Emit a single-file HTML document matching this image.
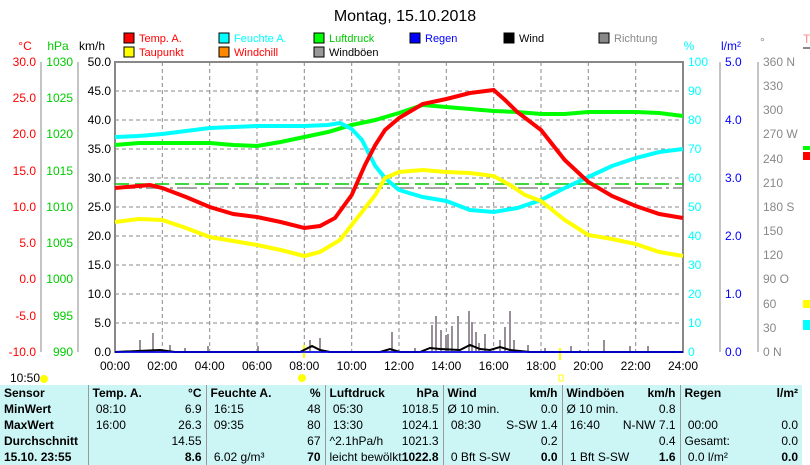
<!DOCTYPE html>
<html><head><meta charset="utf-8"><style>
body{margin:0;width:810px;height:465px;overflow:hidden;background:#fff;font-family:"Liberation Sans",sans-serif}
svg{position:absolute;left:0;top:0}
table{position:absolute;left:0;top:385px;border-collapse:collapse;background:#ccf5f5;font-size:12px;width:802px;table-layout:fixed}
td{padding:0 4px;height:16px;line-height:16px;white-space:nowrap;overflow:hidden}
.b{font-weight:bold}
.bl{border-left:1px solid #999}
</style></head><body>
<svg width="810" height="385" font-family="Liberation Sans, sans-serif" font-size="12">
<text x="405" y="21" font-size="16" text-anchor="middle">Montag, 15.10.2018</text>
<g font-size="11">
<rect x="124" y="33" width="10" height="10" fill="#f00" stroke="#000"/><text x="139" y="42" fill="#f00">Temp. A.</text>
<rect x="124" y="47" width="10" height="10" fill="#ff0" stroke="#000"/><text x="139" y="56" fill="#f00">Taupunkt</text>
<rect x="219" y="33" width="10" height="10" fill="#0ff" stroke="#000"/><text x="234" y="42" fill="#0ff">Feuchte A.</text>
<rect x="219" y="47" width="10" height="10" fill="#f80" stroke="#000"/><text x="234" y="56" fill="#f00">Windchill</text>
<rect x="314" y="33" width="10" height="10" fill="#0f0" stroke="#000"/><text x="329" y="42" fill="#0c0">Luftdruck</text>
<rect x="314" y="47" width="10" height="10" fill="#999" stroke="#000"/><text x="329" y="56">Windböen</text>
<rect x="410" y="33" width="10" height="10" fill="#00f" stroke="#000"/><text x="425" y="42" fill="#00f">Regen</text>
<rect x="504" y="33" width="10" height="10" fill="#000" stroke="#000"/><text x="519" y="42">Wind</text>
<rect x="599" y="33" width="10" height="10" fill="#888" stroke="#000"/><text x="614" y="42" fill="#888">Richtung</text>
</g>
<text x="25" y="50" fill="#f00" text-anchor="middle">°C</text>
<text x="58" y="50" fill="#0c0" text-anchor="middle">hPa</text>
<text x="92" y="50" text-anchor="middle">km/h</text>
<text x="689" y="50" fill="#0ff" text-anchor="middle">%</text>
<text x="731" y="50" fill="#00f" text-anchor="middle">l/m²</text>
<text x="760" y="46" fill="#888">°</text>
<g stroke="#888" stroke-dasharray="4,3" stroke-width="1">
<line x1="162.3" y1="62" x2="162.3" y2="352"/><line x1="209.7" y1="62" x2="209.7" y2="352"/><line x1="257" y1="62" x2="257" y2="352"/><line x1="304.3" y1="62" x2="304.3" y2="352"/><line x1="351.7" y1="62" x2="351.7" y2="352"/><line x1="399" y1="62" x2="399" y2="352"/><line x1="446.3" y1="62" x2="446.3" y2="352"/><line x1="493.7" y1="62" x2="493.7" y2="352"/><line x1="541" y1="62" x2="541" y2="352"/><line x1="588.3" y1="62" x2="588.3" y2="352"/><line x1="635.7" y1="62" x2="635.7" y2="352"/>
<line x1="115" y1="91" x2="683" y2="91"/><line x1="115" y1="120" x2="683" y2="120"/><line x1="115" y1="149" x2="683" y2="149"/><line x1="115" y1="178" x2="683" y2="178"/><line x1="115" y1="207" x2="683" y2="207"/><line x1="115" y1="236" x2="683" y2="236"/><line x1="115" y1="265" x2="683" y2="265"/><line x1="115" y1="294" x2="683" y2="294"/><line x1="115" y1="323" x2="683" y2="323"/>
</g>
<rect x="115" y="62" width="568" height="290" fill="none" stroke="#888" stroke-width="2"/>
<g stroke="#888">
<line x1="41" y1="62" x2="41" y2="352"/><line x1="78" y1="62" x2="78" y2="352"/>
<line x1="720" y1="62" x2="720" y2="352"/><line x1="758" y1="62" x2="758" y2="352"/>
</g>
<g font-size="12">
<g fill="#f00" text-anchor="end"><text x="36" y="66">30.0</text><text x="36" y="102">25.0</text><text x="36" y="138">20.0</text><text x="36" y="175">15.0</text><text x="36" y="211">10.0</text><text x="36" y="247">5.0</text><text x="36" y="283">0.0</text><text x="36" y="320">-5.0</text><text x="36" y="356">-10.0</text></g>
<g fill="#0c0" text-anchor="end"><text x="73" y="66">1030</text><text x="73" y="102">1025</text><text x="73" y="138">1020</text><text x="73" y="175">1015</text><text x="73" y="211">1010</text><text x="73" y="247">1005</text><text x="73" y="283">1000</text><text x="73" y="320">995</text><text x="73" y="356">990</text></g>
<g text-anchor="end"><text x="111" y="66">50.0</text><text x="111" y="95">45.0</text><text x="111" y="124">40.0</text><text x="111" y="153">35.0</text><text x="111" y="182">30.0</text><text x="111" y="211">25.0</text><text x="111" y="240">20.0</text><text x="111" y="269">15.0</text><text x="111" y="298">10.0</text><text x="111" y="327">5.0</text><text x="111" y="356">0.0</text></g>
<g fill="#0ff"><text x="688" y="66">100</text><text x="688" y="95">90</text><text x="688" y="124">80</text><text x="688" y="153">70</text><text x="688" y="182">60</text><text x="688" y="211">50</text><text x="688" y="240">40</text><text x="688" y="269">30</text><text x="688" y="298">20</text><text x="688" y="327">10</text><text x="688" y="356">0</text></g>
<g fill="#00f"><text x="725" y="66">5.0</text><text x="725" y="124">4.0</text><text x="725" y="182">3.0</text><text x="725" y="240">2.0</text><text x="725" y="298">1.0</text><text x="725" y="356">0.0</text></g>
<g fill="#888" font-size="12"><text x="763" y="66">360 N</text><text x="763" y="90">330</text><text x="763" y="114">300</text><text x="763" y="138">270 W</text><text x="763" y="163">240</text><text x="763" y="187">210</text><text x="763" y="211">180 S</text><text x="763" y="235">150</text><text x="763" y="259">120</text><text x="763" y="283">90  O</text><text x="763" y="308">60</text><text x="763" y="332">30</text><text x="763" y="356">0    N</text></g>
<g text-anchor="middle"><text x="115" y="370">00:00</text><text x="162.3" y="370">02:00</text><text x="209.7" y="370">04:00</text><text x="257" y="370">06:00</text><text x="304.3" y="370">08:00</text><text x="351.7" y="370">10:00</text><text x="399" y="370">12:00</text><text x="446.3" y="370">14:00</text><text x="493.7" y="370">16:00</text><text x="541" y="370">18:00</text><text x="588.3" y="370">20:00</text><text x="635.7" y="370">22:00</text><text x="683" y="370">24:00</text></g>
<text x="10" y="382">10:50</text>
</g>
<circle cx="44" cy="379" r="4" fill="#ff0"/><circle cx="302" cy="378" r="4" fill="#ff0"/><rect x="559" y="375" width="4" height="6" fill="none" stroke="#ff0"/>
<line x1="304" y1="345" x2="304" y2="358" stroke="#ff0" stroke-width="2"/><line x1="560" y1="348" x2="560" y2="360" stroke="#ff0" stroke-width="2"/>
<line x1="115" y1="184" x2="683" y2="184" stroke="#0c0" stroke-dasharray="14,6" stroke-width="1.5"/>
<line x1="115" y1="188" x2="683" y2="188" stroke="#888" stroke-dasharray="20,4,3,4" stroke-width="1.5"/>
<g stroke="#978e97" stroke-width="2">
<path d="M140 352V340M153 352V333M170 352V345M185 352V348M208 352V346M258 352V346M310 352V340M320 352V338M392 352V332M415 352V348M432 352V325M436 352V316M441 352V330M446 352V335M448 352V334M452 352V326M458 352V316M469 352V311M472 352V322M476 352V332M479 352V343M485 352V334M500 352V340M505 352V327M510 352V311M514 352V340M528 352V345M545 352V348M571 352V346M580 352V350M604 352V340M630 352V346M648 352V346"/>
</g>
<polyline fill="none" stroke="#000" stroke-width="2" points="115,352 160,350 175,352 300,352 312,346 320,350 330,352 380,352 390,349 400,352 420,352 430,348 440,349 460,350 470,345 480,349 490,350 500,347 510,350 530,352 683,352"/>
<line x1="115" y1="352" x2="683" y2="352" stroke="#00f" stroke-width="1.5"/>
<polyline fill="none" stroke="#0f0" stroke-width="4" points="115,145 138.7,143 162.3,143 186,143 209.7,143 233.3,145 257,146 280.7,142 304.3,137 328,132 351.7,125 375.3,120 399,113 422.7,105 446.3,107 470,109 493.7,111 517.3,112 541,114 564.7,114 588.3,112 612,112 635.7,112 659.3,113 683,116"/>
<polyline fill="none" stroke="#0ff" stroke-width="4" points="115,137 138.7,136 162.3,134 186,131 209.7,128 233.3,127 257,126 280.7,126 304.3,126 328,125 340,123 351.7,129 362,140 375.3,166 385,178 399,190 422.7,197 446.3,201 470,210 493.7,212 517.3,208 541,200 564.7,188 588.3,177 612,166 635.7,158 659.3,152 683,149"/>
<polyline fill="none" stroke="#ff0" stroke-width="4" points="115,222 138.7,219 162.3,220 186,228 209.7,237 233.3,241 257,245 280.7,250 304.3,256 320,252 340,240 351.7,225 375.3,195 385,178 399,172 422.7,170 446.3,172 470,173 493.7,176 510,185 525,195 541,201 564.7,220 588.3,235 612,239 635.7,244 659.3,252 683,256"/>
<polyline fill="none" stroke="#f00" stroke-width="4" points="115,188 138.7,186 150,185 162.3,188 186,197 209.7,207 233.3,214 257,217 280.7,222 304.3,228 320,226 335,218 351.7,195 365,165 375.3,145 385,130 399,118 422.7,104 446.3,99 470,93 493.7,90 505,100 517.3,112 541,130 564.7,160 588.3,182 612,196 635.7,206 659.3,214 683,218"/>
<text x="803" y="43" fill="#f88" font-size="12">T</text>
<line x1="803" y1="48" x2="810" y2="48" stroke="#888" stroke-width="2"/>
<rect x="803" y="146" width="7" height="4" fill="#0f0"/>
<rect x="803" y="152" width="7" height="8" fill="#f00"/>
<rect x="803" y="300" width="7" height="8" fill="#ff0"/>
<rect x="803" y="320" width="7" height="10" fill="#0ff"/>
</svg>
<table>
<colgroup><col style="width:88px"><col style="width:118px"><col style="width:119px"><col style="width:118px"><col style="width:119px"><col style="width:118px"><col style="width:122px"></colgroup>
<tr class="b"><td>Sensor</td><td class="bl">Temp. A.<span style="float:right">°C</span></td><td class="bl">Feuchte A.<span style="float:right">%</span></td><td class="bl">Luftdruck<span style="float:right">hPa</span></td><td class="bl">Wind<span style="float:right">km/h</span></td><td class="bl">Windböen<span style="float:right">km/h</span></td><td class="bl">Regen<span style="float:right">l/m²</span></td></tr>
<tr><td class="b">MinWert</td><td class="bl">&nbsp;08:10<span style="float:right">6.9</span></td><td class="bl">&nbsp;16:15<span style="float:right">48</span></td><td class="bl">&nbsp;05:30<span style="float:right">1018.5</span></td><td class="bl">Ø 10 min.<span style="float:right">0.0</span></td><td class="bl">Ø 10 min.<span style="float:right">0.8</span></td><td class="bl"></td></tr>
<tr><td class="b">MaxWert</td><td class="bl">&nbsp;16:00<span style="float:right">26.3</span></td><td class="bl">&nbsp;09:35<span style="float:right">80</span></td><td class="bl">&nbsp;13:30<span style="float:right">1024.1</span></td><td class="bl">&nbsp;08:30<span style="float:right">S-SW 1.4</span></td><td class="bl">&nbsp;16:40<span style="float:right">N-NW 7.1</span></td><td class="bl">&nbsp;00:00<span style="float:right">0.0</span></td></tr>
<tr><td class="b">Durchschnitt</td><td class="bl"><span style="float:right">14.55</span></td><td class="bl"><span style="float:right">67</span></td><td class="bl">^2.1hPa/h<span style="float:right">1021.3</span></td><td class="bl"><span style="float:right">0.2</span></td><td class="bl"><span style="float:right">0.4</span></td><td class="bl">Gesamt:<span style="float:right">0.0</span></td></tr>
<tr><td class="b">15.10. 23:55</td><td class="bl"><b style="float:right">8.6</b></td><td class="bl">&nbsp;6.02 g/m³<b style="float:right">70</b></td><td class="bl">leicht bewölkt<b style="float:right">1022.8</b></td><td class="bl">&nbsp;0 Bft S-SW<b style="float:right">0.0</b></td><td class="bl">&nbsp;1 Bft S-SW<b style="float:right">1.6</b></td><td class="bl">&nbsp;0.0 l/m²<b style="float:right">0.0</b></td></tr>
</table>
</body></html>
